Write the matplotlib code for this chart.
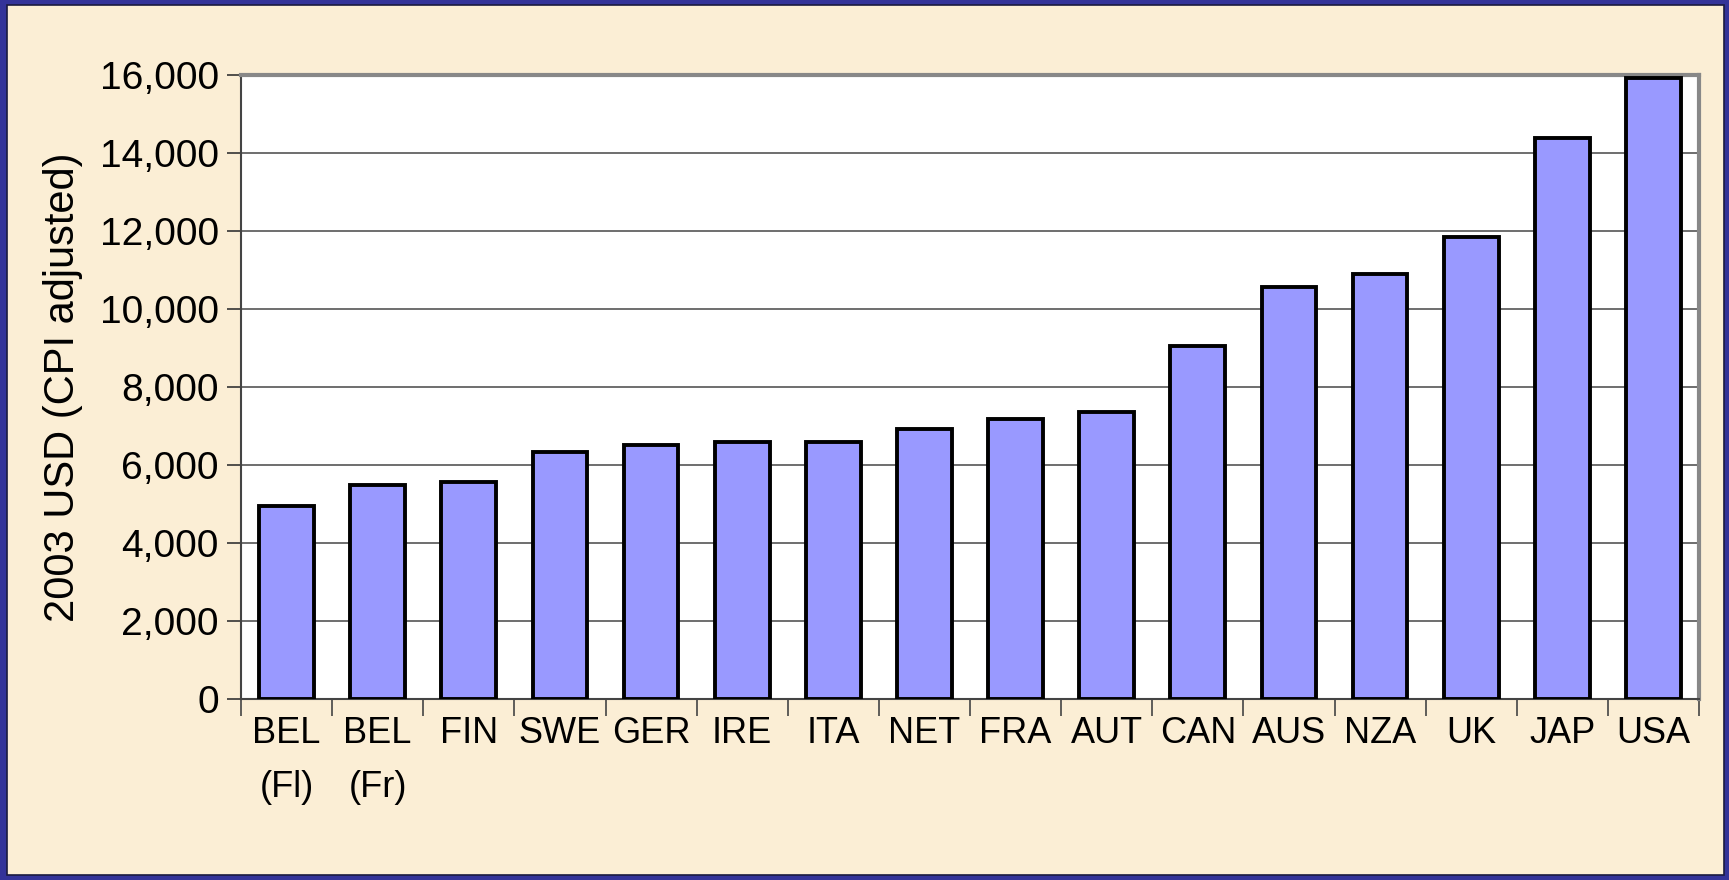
import matplotlib
matplotlib.use("Agg")
import matplotlib.pyplot as plt
from matplotlib.patches import Rectangle
from matplotlib.ticker import FuncFormatter, MultipleLocator

countries = ["BEL\n(Fl)", "BEL\n(Fr)", "FIN", "SWE", "GER", "IRE", "ITA", "NET",
             "FRA", "AUT", "CAN", "AUS", "NZA", "UK", "JAP", "USA"]
spending = [4950, 5480, 5570, 6330, 6500, 6590, 6590, 6930,
            7180, 7350, 9050, 10570, 10910, 11840, 14390, 15920]

W, H = 1729, 880
fig = plt.figure(figsize=(W / 100, H / 100), dpi=100)
fig.patch.set_facecolor("#333399")
plt.rcParams["font.family"] = ["Liberation Sans", "DejaVu Sans"]

# beige slide panel inside the blue frame
fig.add_artist(Rectangle((7 / W, 5 / H), (W - 12) / W, (H - 10) / H,
                         transform=fig.transFigure, facecolor="#FBEED5",
                         edgecolor="#1a1a40", linewidth=1.2, zorder=0))

ax = fig.add_axes([241 / W, 1 - 699 / H, (1699 - 241) / W, (699 - 75) / H])
ax.set_facecolor("white")
x = range(len(countries))
ax.bar(x, spending, width=0.6, color="#9999FF", edgecolor="black", linewidth=2.8, zorder=3)

ax.set_xlim(-0.5, len(countries) - 0.5)
ax.set_ylim(0, 16000)
ax.yaxis.set_major_locator(MultipleLocator(2000))
ax.yaxis.set_major_formatter(FuncFormatter(lambda v, p: f"{int(v):,}"))
ax.grid(axis="y", color="#555555", linewidth=1.2, zorder=1)

# x ticks between categories, labels centered under bars
ax.set_xticks([i - 0.5 for i in range(len(countries) + 1)])
ax.set_xticklabels([])
ax.set_xticks(list(x), minor=True)
ax.set_xticklabels(countries, minor=True, fontsize=26, va="top", linespacing=1.7)
ax.tick_params(axis="x", which="major", length=12, width=1.2, color="#444444", direction="out")
ax.tick_params(axis="x", which="minor", length=0, pad=12)
ax.tick_params(axis="y", length=10, width=1.2, color="#333333", labelsize=28, pad=6)

for s in ["top", "right"]:
    ax.spines[s].set_color("#888888")
    ax.spines[s].set_linewidth(3)
for s in ["left", "bottom"]:
    ax.spines[s].set_color("#444444")
    ax.spines[s].set_linewidth(1.5)

ax.set_ylabel("2003 USD (CPI adjusted)", fontsize=30, labelpad=12)

fig.savefig("out.png", dpi=100, facecolor=fig.get_facecolor())
